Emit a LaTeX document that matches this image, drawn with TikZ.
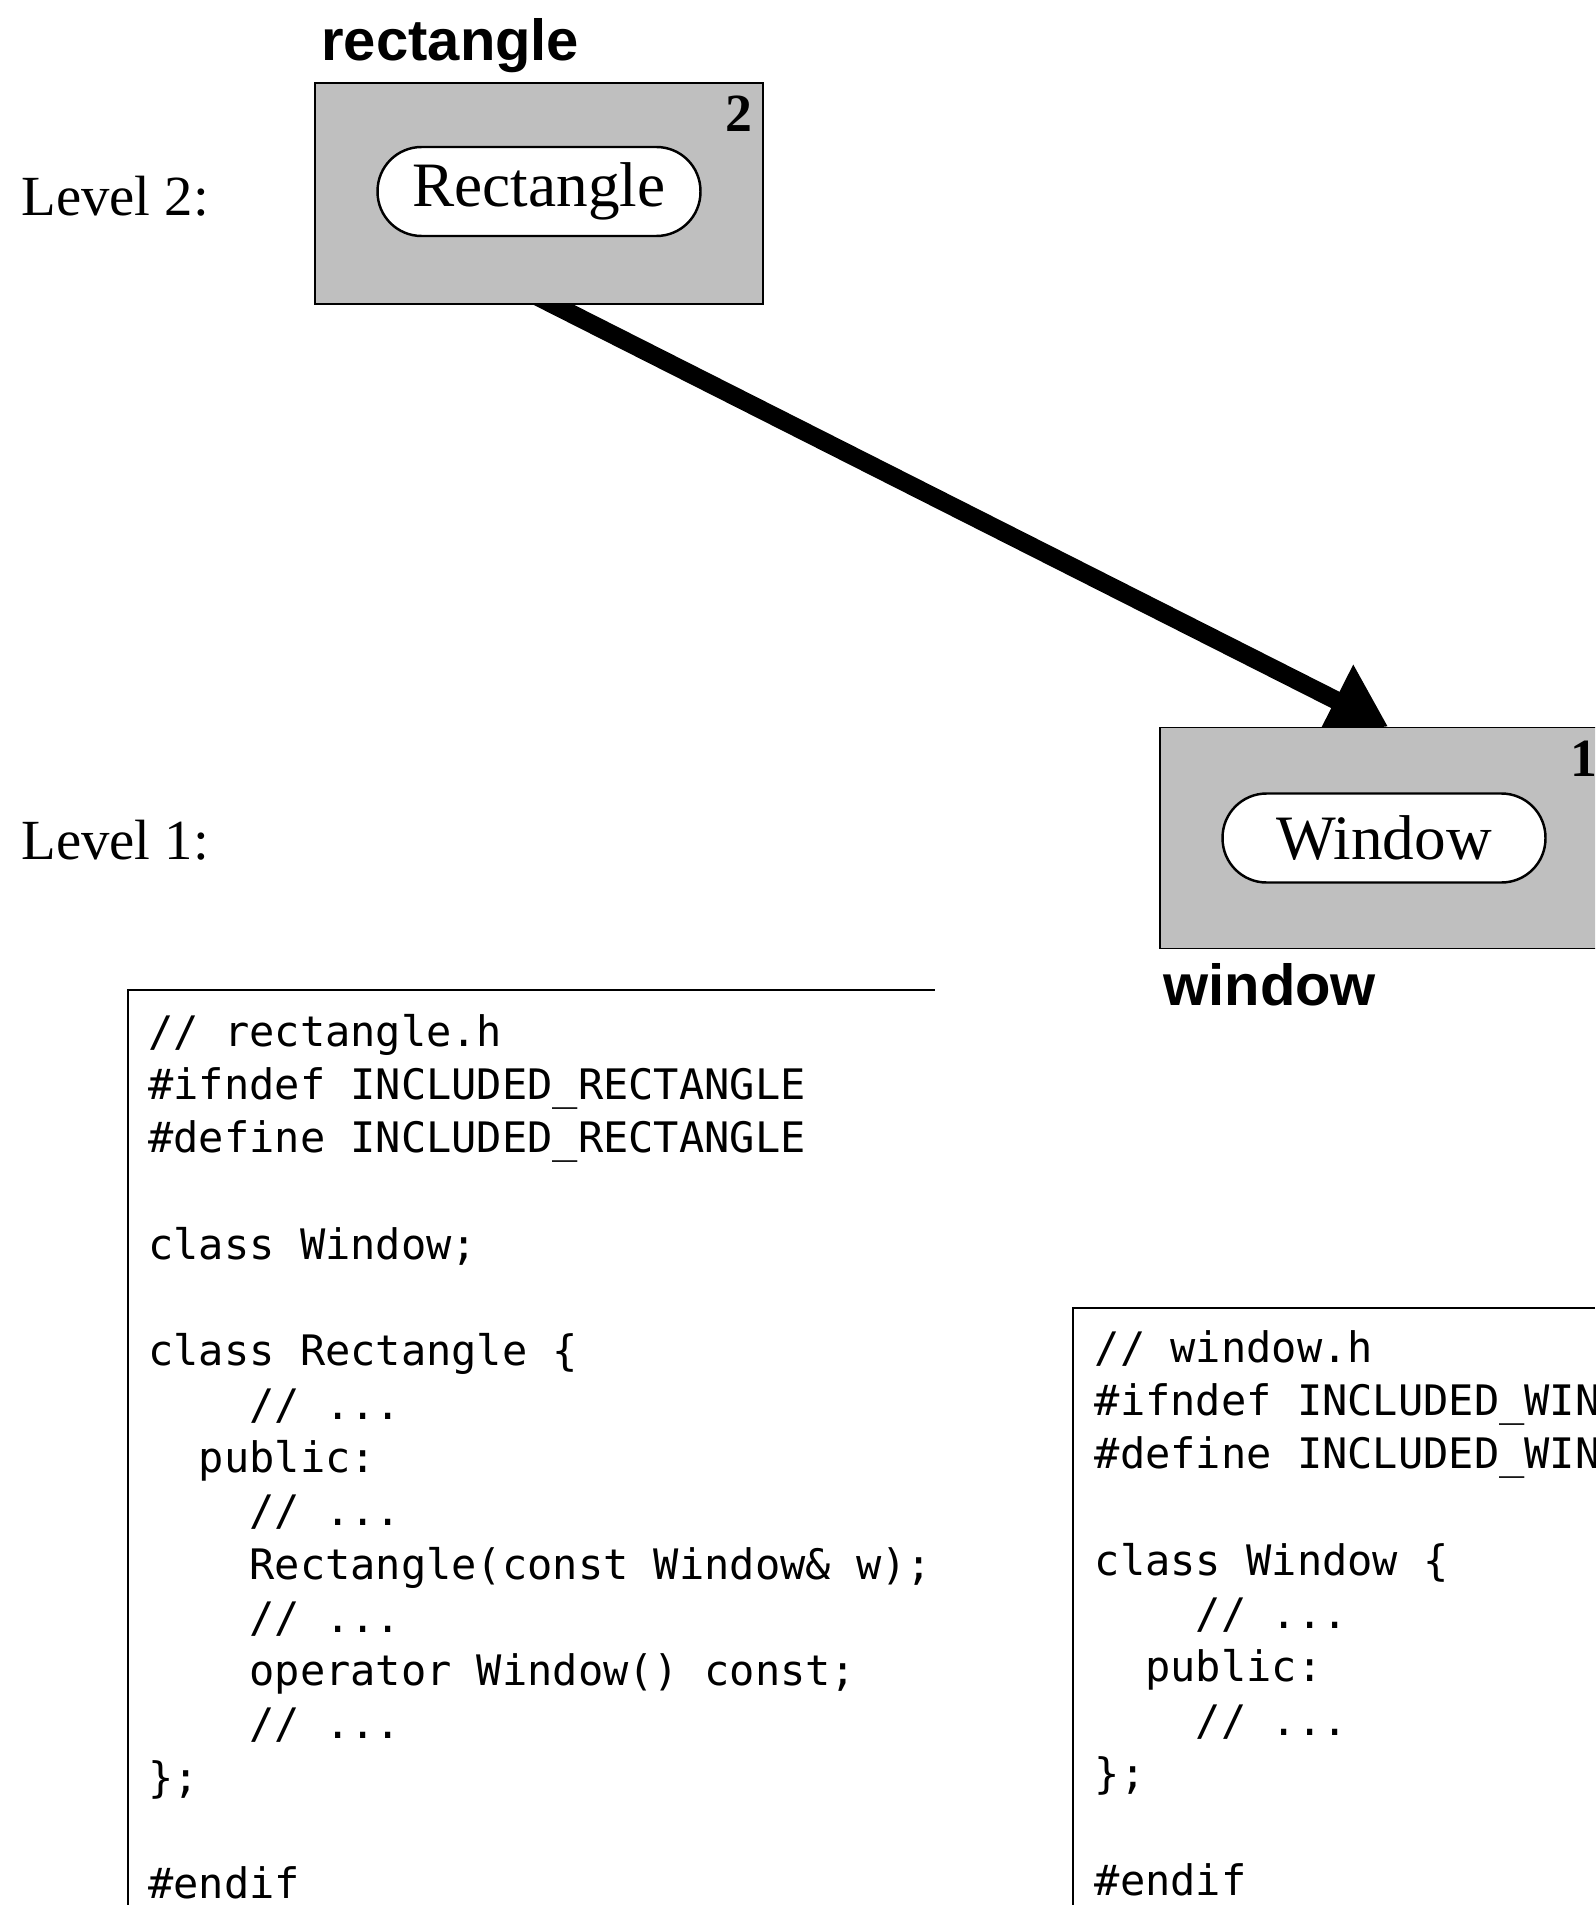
\documentclass[tikz,border=0pt]{standalone}
\usepackage{fontspec}
\setmainfont{Liberation Serif}
\newfontfamily\modfont{Liberation Sans}
\newfontfamily\codefont{DejaVu Sans Mono}
\usetikzlibrary{arrows.meta, backgrounds}

\begin{document}
\begin{tikzpicture}[x=0.02cm, y=-0.02cm]
        % Define styles, grey boxes for the components
        \tikzstyle{component} = [rectangle, draw, line width=1.1pt, fill=black!25,
                                 minimum width=8.96cm, minimum height=4.42cm]
        \tikzstyle{classpill} = [rectangle, draw, line width=1.4pt, fill=white, rounded corners=0.88cm,
                                 minimum width=6.46cm, minimum height=1.78cm, font=\fontsize{36}{40}\selectfont]
        \tikzstyle{modname} = [inner sep=0, font=\modfont\bfseries\fontsize{33}{38}\selectfont]
        \tikzstyle{level} = [inner sep=0, font=\fontsize{32.3}{38}\selectfont]
        \tikzstyle{levelnum} = [inner sep=0, font=\bfseries\fontsize{30.6}{36}\selectfont]
        \tikzstyle{code} = [inner sep=0, anchor=base west, font=\codefont\fontsize{23.9}{30}\selectfont]
        \tikzstyle{frame} = [line width=1.1pt]
        \tikzstyle{dependency} = [line width=10.4pt, -{Triangle[length=1.18cm, width=1.5cm]}]

        \useasboundingbox (0,0) rectangle (1595,1905);
        \clip (0,0) rectangle (1595,1905);

        % Components on the two levels
        \node (rect) [component] at (539,193.5) {};
        \node (win) [component] at (1384,838) {};
        \node (rectclass) [classpill] at ([yshift=0.04cm]rect.center) {Rectangle};
        \node (winclass) [classpill] at (win.center) {Window};

        % Level numbers and component names
        \node (rectnum) [levelnum, anchor=north east] at ([xshift=-0.22cm, yshift=-0.28cm]rect.north east) {2};
        \node (winnum) [levelnum, anchor=north east] at ([xshift=-0.22cm, yshift=-0.28cm]win.north east) {1};
        \node (rectname) [modname, anchor=base west] at ([xshift=0.14cm, yshift=0.44cm]rect.north west) {rectangle};
        \node (winname) [modname, anchor=base west] at ([xshift=0.08cm, yshift=-1.12cm]win.south west) {window};

        \coordinate (margin) at (21,0);
        \node (lvltwo) [level, anchor=base west, yshift=-0.44cm] at (rect.center -| margin) {Level 2:};
        \node (lvlone) [level, anchor=base west, yshift=-0.42cm] at (win.center -| margin) {Level 1:};

        % Dependency arrow, behind the boxes
        \begin{scope}[on background layer]
            \draw [dependency, shorten <=-0.5cm] ([xshift=0.3cm]rect.south) -- ([xshift=0.08cm]win.north);
        \end{scope}

        % Header files
        \draw [frame] (128,1905) -- (128,990) -- (935,990);
        \foreach \n/\codeline in {1/{// rectangle.h}, 2/{\#ifndef INCLUDED\_RECTANGLE},
                3/{\#define INCLUDED\_RECTANGLE}, 5/{class Window;}, 7/{class Rectangle \{},
                8/{\phantom{0000}// ...}, 9/{\phantom{00}public:}, 10/{\phantom{0000}// ...},
                11/{\phantom{0000}Rectangle(const Window\& w);}, 12/{\phantom{0000}// ...},
                13/{\phantom{0000}operator Window() const;}, 14/{\phantom{0000}// ...},
                15/{\};}, 17/{\#endif}}
            \node (rectline\n) [code] at ({148},{1046+53.3*(\n-1)}) {\codeline};

        \draw [frame] (1073,1905) -- (1073,1308) -- (1595,1308);
        \foreach \n/\codeline in {1/{// window.h}, 2/{\#ifndef INCLUDED\_WINDOW},
                3/{\#define INCLUDED\_WINDOW}, 5/{class Window \{}, 6/{\phantom{0000}// ...},
                7/{\phantom{00}public:}, 8/{\phantom{0000}// ...}, 9/{\};}, 11/{\#endif}}
            \node (winline\n) [code] at ({1094.5},{1362+53.3*(\n-1)}) {\codeline};
    \end{tikzpicture}
\end{document}
